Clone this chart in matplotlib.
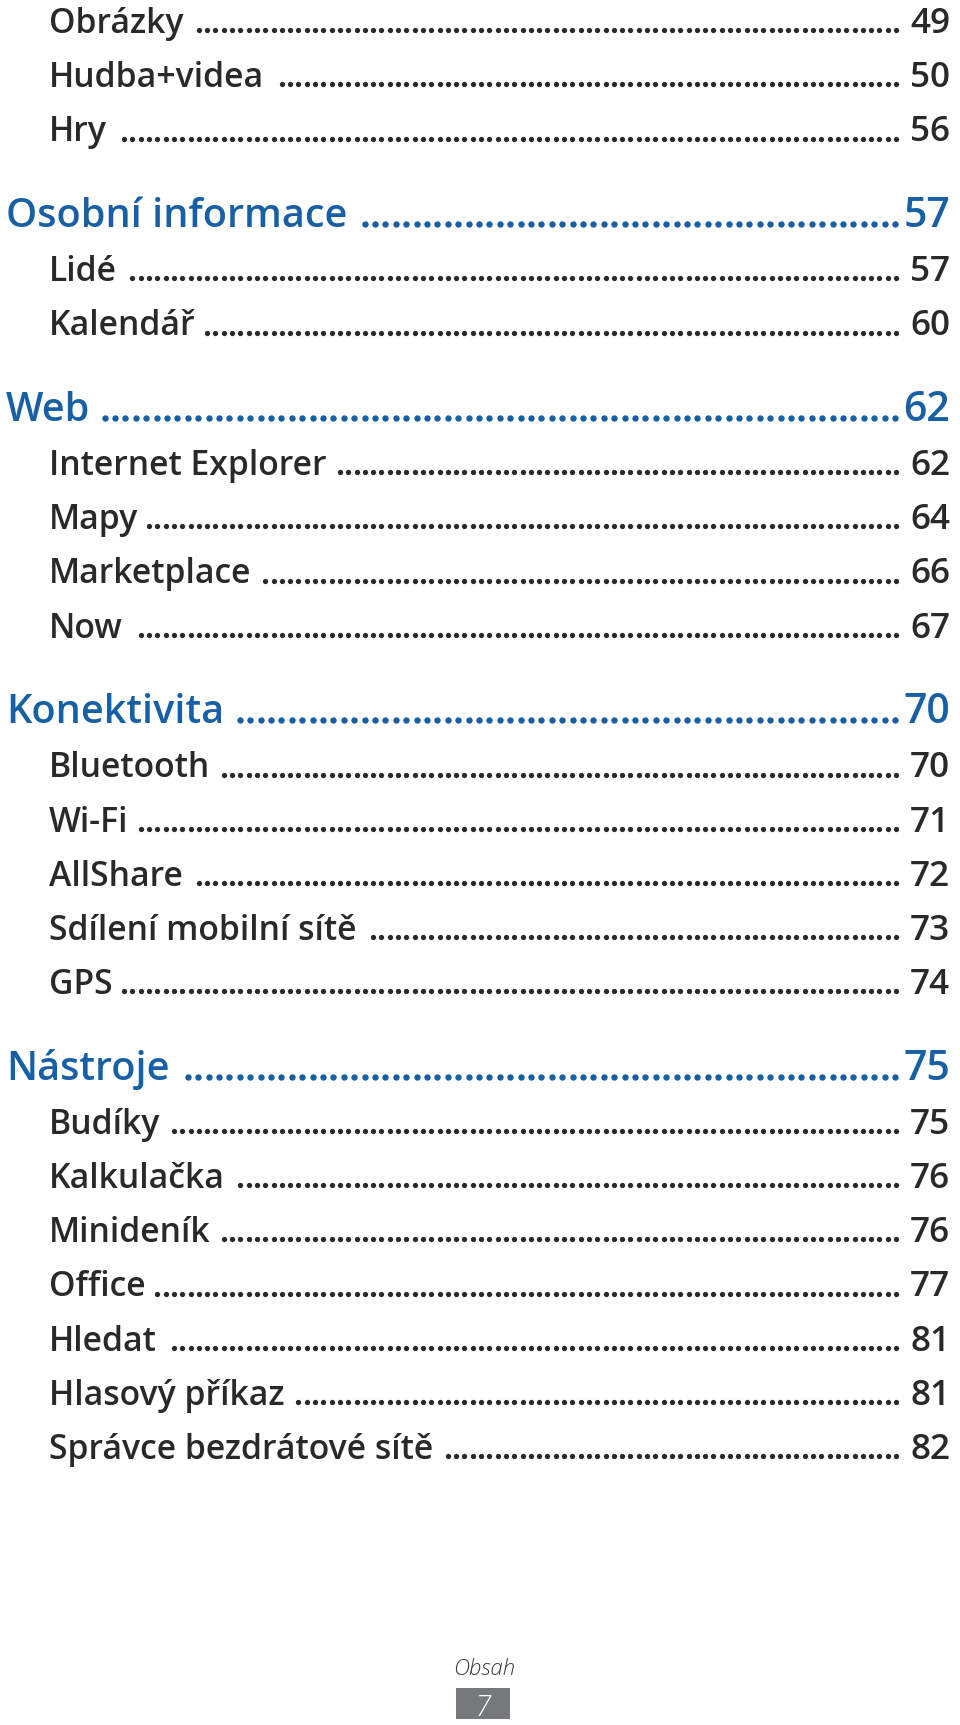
import numpy as np
import matplotlib
matplotlib.use("Agg")
import matplotlib.pyplot as plt

titles = ["Obrázky", "Hudba+videa", "Hry",
          "Osobní informace", "Lidé", "Kalendář",
          "Web", "Internet Explorer", "Mapy", "Marketplace", "Now",
          "Konektivita", "Bluetooth", "Wi-Fi", "AllShare",
          "Sdílení mobilní sítě", "GPS",
          "Nástroje", "Budíky", "Kalkulačka", "Minideník", "Office",
          "Hledat", "Hlasový příkaz", "Správce bezdrátové sítě"]
pages = [49, 50, 56, 57, 57, 60, 62, 62, 64, 66, 67, 70, 70, 71, 72, 73,
         74, 75, 75, 76, 76, 77, 81, 81, 82]
heading = [0, 0, 0, 1, 0, 0, 1, 0, 0, 0, 0, 1, 0, 0, 0, 0, 0, 1, 0, 0, 0,
           0, 0, 0, 0]
footer_label = "Obsah"
page_no = "7"

blue = "#1860a6"
dark = "#2a2829"
font = "Open Sans"

W, H = 960, 1725
fig = plt.figure(figsize=(W / 100, H / 100), dpi=100)
ax = fig.add_axes([0, 0, 1, 1])
ax.set_xlim(0, W)
ax.set_ylim(H, 0)
ax.axis("off")

# baselines
ys = []
y = 33.0
for i, h in enumerate(heading):
    if i > 0:
        y += 85.5 if h else 54.2
    ys.append(y)

fig.canvas.draw()
renderer = fig.canvas.get_renderer()
inv = ax.transData.inverted()

for t, p, h, y in zip(titles, pages, heading, ys):
    col = blue if h else dark
    x0 = 6 if h else 49
    size = 28.5 if h else 24.3
    txt = ax.text(x0, y, t, fontsize=size, color=col, family=font,
                  weight="semibold", va="baseline", ha="left")
    ax.text(950, y, str(p), fontsize=size + 1, color=col, family=font,
            weight="semibold", va="baseline", ha="right")
    bb = txt.get_window_extent(renderer)
    xend_text = inv.transform((bb.x1, bb.y0))[0]
    if h:
        step, start_gap, end_x, ms = 10.4, 10, 895, 4.6
    else:
        step, start_gap, end_x, ms = 8.3, 10, 896, 3.8
    xs = np.arange(end_x, xend_text + start_gap, -step)
    ax.plot(xs, np.full(len(xs), y - 2.8), "o", ms=ms, mew=0, color=col)

ax.text(484, 1675, footer_label, fontsize=16, color="#3a3a3a", family=font,
        weight="light", style="italic", ha="center", va="baseline")
ax.add_patch(plt.Rectangle((456, 1688), 54, 31, color="#77787b", lw=0))
ax.text(483, 1716, page_no, fontsize=21, color="white", family=font,
        weight="light", style="italic", ha="center", va="baseline")

fig.savefig("out.png", dpi=100)
